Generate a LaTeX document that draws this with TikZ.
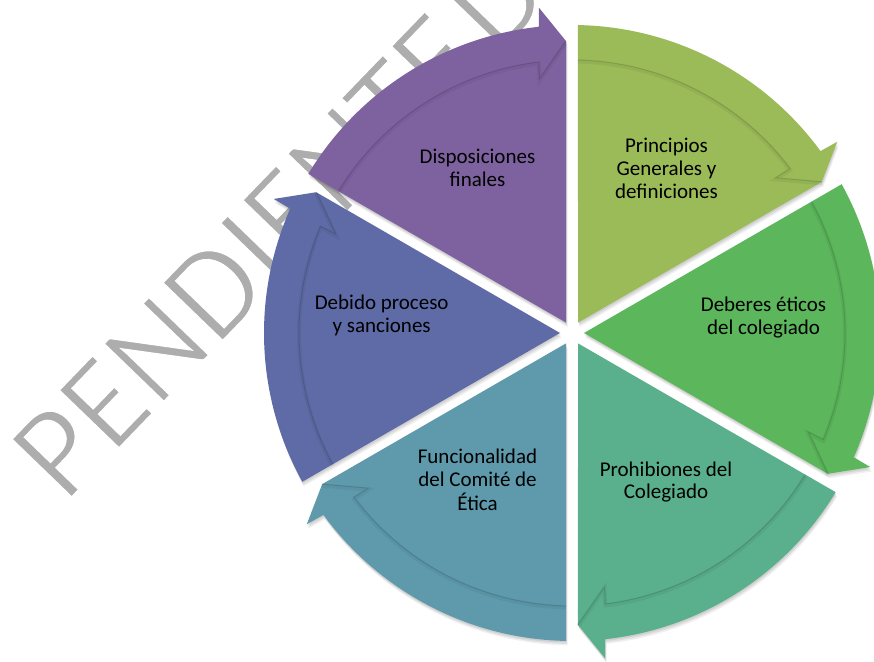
\documentclass[tikz,border=0pt]{standalone}
\usepackage{fontspec}
\setmainfont{Carlito}
\definecolor{cA}{HTML}{9BBB59}
\definecolor{cB}{HTML}{5CB65C}
\definecolor{cC}{HTML}{5AAF8C}
\definecolor{cD}{HTML}{5E9AAC}
\definecolor{cE}{HTML}{5E6BA6}
\definecolor{cF}{HTML}{7E62A0}
\definecolor{wmgray}{HTML}{ADADAD}
\tikzset{
  wedgepath/.style={insert path={(\tC:12) -- (\tA:308) arc[start angle=\tA, end angle=\tB, radius=308] -- (\tW:327) -- (\tT:292) -- cycle}},
  bandline/.style={insert path={(\tS:273) arc[start angle=\tS, end angle=\tE, radius=273] -- (\tI:256) -- (\tT:292)}},
  lbl/.style={font=\fontsize{21}{22.8}\selectfont, text=black, inner sep=0pt, anchor=base},
}
\newcommand\setangles[1]{%
  \pgfmathsetmacro\tA{#1-asin(6/308)}%
  \pgfmathsetmacro\tB{#1-60+6.2}%
  \pgfmathsetmacro\tW{#1-60+5.8}%
  \pgfmathsetmacro\tT{#1-60+asin(6/292)}%
  \pgfmathsetmacro\tC{#1-30}%
  \pgfmathsetmacro\tS{#1-asin(6/273)}%
  \pgfmathsetmacro\tE{#1-60+7.0}%
  \pgfmathsetmacro\tI{#1-60+7.3}%
}
\newcommand\thinwm[1]{\special{pdf:literal direct 2 Tr 1 1 1 RG 3 w}#1\special{pdf:literal direct 0 Tr}}
\begin{document}
\begin{tikzpicture}[x=1pt,y=1pt]
\fill[white] (-572,-328) rectangle (302,333);
\useasboundingbox (-572,-328) rectangle (302,333);
% watermark
\node[font=\fontsize{132}{132}\selectfont, text=wmgray, rotate=46, anchor=base west, inner sep=0pt] (wm) at (-507,-172) {\thinwm{PENDIENTE\hspace{12pt}DE}};
% shadows
\foreach \a in {90,30,-30,-90,-150,150}{
  \setangles{\a}
  \fill[black,opacity=0.07,shift={(0.5,-1.5)}] [wedgepath];
  \fill[black,opacity=0.07,shift={(1,-3)}] [wedgepath];
  \fill[black,opacity=0.06,shift={(1.5,-4.5)}] [wedgepath];
}
% wedges
\foreach \a/\col in {90/cA,30/cB,-30/cC,-90/cD,-150/cE,150/cF}{
  \setangles{\a}
  \fill[\col] [wedgepath];
  \draw[black,opacity=0.05,line width=4pt,shift={(0,-1.5)}] [bandline];
  \draw[black,opacity=0.12,line width=1pt] [bandline];
}
% labels
\node[lbl] (n1) at (94.5,180) {\begin{tabular}[t]{@{}c@{}}Principios\\Generales y\\definiciones\end{tabular}};
\node[lbl] (n2) at (191.5,21.3) {\begin{tabular}[t]{@{}c@{}}Deberes éticos\\del colegiado\end{tabular}};
\node[lbl] (n3) at (94,-143) {\begin{tabular}[t]{@{}c@{}}Prohibiones del\\Colegiado\end{tabular}};
\node[lbl] (n4) at (-94.5,-130.3) {\begin{tabular}[t]{@{}c@{}}Funcionalidad\\del Comité de\\Ética\end{tabular}};
\node[lbl] (n5) at (-190.3,23.7) {\begin{tabular}[t]{@{}c@{}}Debido proceso\\y sanciones\end{tabular}};
\node[lbl] (n6) at (-94.5,169) {\begin{tabular}[t]{@{}c@{}}Disposiciones\\finales\end{tabular}};
\end{tikzpicture}
\end{document}
